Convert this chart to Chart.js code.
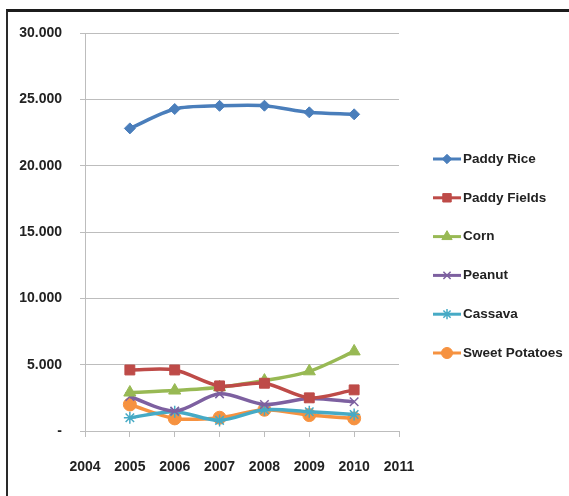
<!DOCTYPE html>
<html>
<head>
<meta charset="utf-8">
<script src="https://cdn.jsdelivr.net/npm/chart.js@4/dist/chart.umd.min.js"></script>
<style>
  html, body { margin: 0; padding: 0; background: #fff; }
  #wrap { position: relative; width: 569px; height: 496px; overflow: hidden; }
  #frame { position: absolute; left: 6px; top: 9px; right: -4px; bottom: -4px;
           border-top: 3px solid #1c1c1c; border-left: 2px solid #2a2a2a; }
  #c { position: absolute; left: 0; top: 0; }
</style>
</head>
<body>
<div id="wrap">
  <div id="frame"></div>
  <canvas id="c" width="569" height="496"></canvas>
</div>
<script>
// Production by crop, 2005-2010
const years = [2005, 2006, 2007, 2008, 2009, 2010];
const paddyRice     = [22810, 24270, 24510, 24520, 24020, 23870];
const paddyFields   = [4600, 4600, 3400, 3600, 2500, 3100];
const corn          = [2900, 3050, 3300, 3800, 4500, 6000];
const peanut        = [2600, 1500, 2800, 2000, 2450, 2200];
const cassava       = [1000, 1450, 800, 1600, 1450, 1250];
const sweetPotatoes = [2000, 950, 1000, 1600, 1200, 950];

const seriesNames = ['Paddy Rice', 'Paddy Fields', 'Corn', 'Peanut', 'Cassava', 'Sweet Potatoes'];
const seriesValues = [paddyRice, paddyFields, corn, peanut, cassava, sweetPotatoes];
const seriesColors = ['#4a7ebb', '#be4b48', '#98b954', '#7d60a0', '#46aac5', '#f69240'];
const seriesMarkers = ['rectRot', 'rect', 'triangle', 'crossRot', 'star', 'circle'];
const markerSizes = [5.5, 7, 7, 6, 6, 6.5];

const yTicks = { min: 0, max: 30000, step: 5000 };
const xTicks = { min: 2004, max: 2011, step: 1 };

const FAMILY = "'Liberation Sans', Arial, sans-serif";
const AXIS_FONT = { family: FAMILY, size: 14, weight: 'bold' };
const TEXT = '#222';
const GRID = '#bdbdbd';

function thousands(v) {
  if (v === 0) return '-';
  const s = String(Math.round(v));
  return s.replace(/\B(?=(\d{3})+(?!\d))/g, '.');
}

const datasets = seriesNames.map((name, i) => ({
  label: name,
  data: years.map((y, j) => ({ x: y, y: seriesValues[i][j] })),
  borderColor: seriesColors[i],
  backgroundColor: seriesColors[i],
  pointBackgroundColor: seriesColors[i],
  pointBorderColor: seriesColors[i],
  pointStyle: seriesMarkers[i],
  pointRadius: markerSizes[i],
  pointBorderWidth: (seriesMarkers[i] === 'crossRot' || seriesMarkers[i] === 'star') ? 1.5 : 1,
  borderWidth: 3.5,
  tension: 0.3,
  fill: false
}));

// Legend drawn as line + marker, Excel style
const sideLegend = {
  id: 'sideLegend',
  afterDraw(chart) {
    const ctx = chart.ctx;
    const x0 = 433, x1 = 461, top = 159, gap = 38.8;
    ctx.save();
    chart.data.datasets.forEach((ds, i) => {
      const y = top + i * gap;
      ctx.strokeStyle = ds.borderColor;
      ctx.lineWidth = 3;
      ctx.beginPath();
      ctx.moveTo(x0, y);
      ctx.lineTo(x1, y);
      ctx.stroke();
      ctx.fillStyle = ds.backgroundColor;
      ctx.strokeStyle = ds.borderColor;
      ctx.lineWidth = ds.pointBorderWidth;
      Chart.helpers.drawPoint(ctx, {
        pointStyle: ds.pointStyle,
        radius: ds.pointRadius * 0.85,
        rotation: 0,
        borderWidth: ds.pointBorderWidth
      }, (x0 + x1) / 2, y);
      ctx.fillStyle = TEXT;
      ctx.font = "bold 13.5px " + FAMILY;
      ctx.textAlign = 'left';
      ctx.textBaseline = 'middle';
      ctx.fillText(ds.label, x1 + 2, y);
    });
    ctx.restore();
  }
};

new Chart(document.getElementById('c'), {
  type: 'line',
  data: { datasets },
  plugins: [sideLegend],
  options: {
    responsive: false,
    animation: false,
    layout: { padding: { left: 0, top: 33, right: 170, bottom: 0 } },
    plugins: { legend: { display: false }, tooltip: { enabled: false } },
    scales: {
      x: {
        type: 'linear',
        min: xTicks.min, max: xTicks.max,
        ticks: {
          stepSize: xTicks.step,
          color: TEXT, font: AXIS_FONT, padding: 22,
          maxRotation: 0,
          callback: v => String(v)
        },
        grid: { drawOnChartArea: false, drawTicks: true, tickLength: 6, color: GRID },
        border: { color: GRID, width: 1 },
        afterFit(scale) { scale.height = 65; }
      },
      y: {
        min: yTicks.min, max: yTicks.max,
        ticks: {
          stepSize: yTicks.step,
          color: TEXT, font: AXIS_FONT, padding: 18,
          callback: v => thousands(v)
        },
        grid: { color: GRID, tickLength: 5, lineWidth: 1 },
        border: { color: GRID, width: 1 },
        afterFit(scale) { scale.width = 85; }
      }
    }
  }
});
</script>
</body>
</html>
